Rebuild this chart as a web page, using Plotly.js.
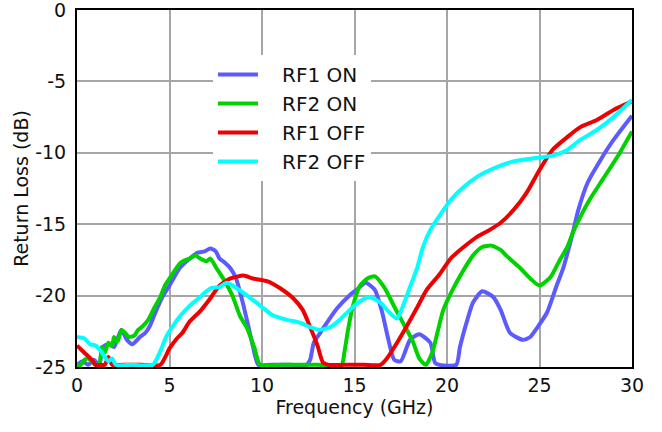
<!DOCTYPE html>
<html>
<head>
<meta charset="utf-8">
<script src="https://cdn.plot.ly/plotly-3.0.1.min.js"></script>
<style>html,body{margin:0;padding:0;background:#fff;}#chart{width:662px;height:432px;}</style>
</head>
<body>
<div id="chart"></div>
<script>
// Series names
const seriesNames = ['RF1 ON', 'RF2 ON', 'RF1 OFF', 'RF2 OFF'];

// RF1 ON
const rf1OnFreq = [0, 0.3, 0.6, 0.9, 1.2, 1.4, 1.7, 2.0, 2.2, 2.4, 2.7, 3.0, 3.4, 3.7, 3.95, 4.2, 4.5, 4.75, 5.0, 5.3, 5.6, 6.1, 6.5, 6.9, 7.2, 7.5, 7.7, 8.0, 8.3, 8.6, 8.8, 9.0, 9.2, 9.5, 9.8, 10.5, 11.5, 12.4, 12.6, 12.8, 13.1, 13.4, 14.05, 14.8, 15.2, 15.6, 16.1, 16.5, 16.8, 17.15, 17.5, 18.0, 18.5, 19.1, 19.35, 19.6, 20.5, 20.7, 21.1, 21.4, 21.9, 22.5, 22.9, 23.4, 24.1, 24.5, 24.9, 25.4, 25.9, 26.3, 26.8, 27.1, 27.6, 28.3, 29.0, 30];
const rf1OnLoss = [-24.85, -24.6, -24.85, -24.5, -24.85, -23.6, -23.4, -23.6, -23.0, -22.4, -23.1, -23.4, -22.9, -22.6, -22.1, -21.3, -20.4, -19.8, -19.3, -18.6, -18.0, -17.4, -17.0, -16.9, -16.7, -16.9, -17.4, -17.7, -18.1, -18.8, -19.7, -20.7, -21.8, -23.5, -24.85, -24.85, -24.85, -24.85, -24.5, -23.3, -22.7, -22.1, -20.9, -19.9, -19.5, -19.1, -19.6, -21.2, -22.9, -24.5, -24.6, -23.1, -22.7, -23.3, -24.7, -24.85, -24.85, -23.6, -21.7, -20.5, -19.7, -20.1, -21.0, -22.6, -23.1, -22.9, -22.2, -21.2, -19.4, -18.0, -15.6, -14.0, -12.1, -10.5, -9.1, -7.4];

// RF2 ON
const rf2OnFreq = [0, 0.2, 0.4, 0.6, 0.8, 1.0, 1.2, 1.35, 1.5, 1.7, 1.9, 2.0, 2.2, 2.4, 2.6, 2.8, 3.1, 3.3, 3.5, 3.85, 4.2, 4.5, 4.75, 5.0, 5.6, 6.1, 6.4, 6.65, 7.0, 7.2, 7.55, 7.9, 8.4, 8.8, 9.2, 9.6, 9.9, 11, 12, 13, 14.3, 14.45, 14.65, 14.9, 15.3, 15.7, 16.1, 16.6, 17.2, 17.7, 18.15, 18.5, 18.85, 19.2, 19.5, 19.8, 20.3, 20.9, 21.4, 21.9, 22.4, 22.9, 23.2, 23.9, 24.5, 25.0, 25.6, 26.1, 26.5, 26.8, 27.2, 27.7, 28.4, 29.2, 30];
const rf2OnLoss = [-24.85, -24.85, -24.5, -24.4, -24.6, -24.85, -24.85, -23.6, -24.0, -23.3, -23.5, -22.9, -23.2, -22.4, -22.6, -22.9, -22.8, -22.4, -22.2, -21.7, -20.8, -20.1, -19.3, -18.8, -17.7, -17.4, -17.2, -17.4, -17.6, -17.4, -18.1, -18.8, -20.0, -21.4, -22.3, -23.7, -24.85, -24.85, -24.85, -24.85, -24.85, -24.0, -22.4, -20.8, -19.3, -18.8, -18.65, -19.4, -20.9, -22.1, -23.2, -24.4, -24.85, -24.0, -22.5, -21.0, -19.6, -18.2, -17.2, -16.6, -16.5, -16.8, -17.2, -18.0, -18.8, -19.3, -18.7, -17.5, -16.6, -15.6, -14.5, -13.3, -11.9, -10.3, -8.5];

// RF1 OFF
const rf1OffFreq = [0, 0.4, 0.8, 1.0, 1.3, 1.5, 1.7, 1.9, 2.5, 3.5, 4.5, 5.0, 5.4, 5.7, 6.1, 6.65, 7.2, 7.7, 8.3, 9.0, 9.5, 10.3, 11.0, 11.7, 12.2, 12.6, 13.0, 13.3, 13.6, 14.5, 15.5, 16.4, 16.75, 17.3, 17.8, 18.4, 18.9, 19.6, 20.2, 20.9, 21.6, 22.3, 22.9, 23.6, 24.3, 25.0, 25.7, 26.5, 27.2, 28.1, 29.0, 30];
const rf1OffLoss = [-23.5, -24.0, -24.5, -24.85, -24.85, -24.85, -24.3, -24.85, -24.85, -24.85, -24.85, -23.7, -23.0, -22.6, -21.8, -21.1, -20.2, -19.3, -18.8, -18.6, -18.8, -19.0, -19.5, -20.2, -21.0, -22.2, -23.5, -24.7, -24.85, -24.85, -24.85, -24.85, -24.4, -23.3, -22.2, -20.8, -19.6, -18.5, -17.4, -16.6, -15.9, -15.4, -14.9, -14.0, -12.8, -11.2, -9.8, -8.9, -8.2, -7.7, -7.0, -6.4];

// RF2 OFF
const rf2OffFreq = [0, 0.4, 0.7, 1.0, 1.35, 1.7, 1.9, 2.1, 3.0, 4.1, 4.5, 4.85, 5.2, 5.6, 6.1, 6.65, 7.2, 7.7, 8.1, 8.65, 9.2, 9.9, 10.6, 11.35, 12.05, 12.6, 13.1, 13.7, 14.2, 14.75, 15.3, 15.8, 16.4, 16.9, 17.3, 17.6, 18.0, 18.4, 18.7, 19.1, 19.6, 20.2, 20.9, 21.6, 22.5, 23.6, 24.6, 25.7, 26.5, 27.2, 28.1, 29.0, 30];
const rf2OffLoss = [-22.9, -23.0, -23.4, -23.5, -24.0, -24.6, -24.4, -24.85, -24.85, -24.85, -23.9, -22.8, -22.1, -21.4, -20.7, -20.1, -19.5, -19.4, -19.1, -19.5, -20.0, -20.7, -21.4, -21.7, -21.9, -22.2, -22.4, -22.2, -21.7, -21.0, -20.4, -20.1, -20.5, -21.2, -21.6, -20.8, -19.4, -18.0, -16.6, -15.4, -14.4, -13.3, -12.4, -11.7, -11.1, -10.6, -10.4, -10.2, -9.8, -9.1, -8.4, -7.5, -6.3];

// Axis ticks
const xTicks = [0, 5, 10, 15, 20, 25, 30];
const yTicks = [0, -5, -10, -15, -20, -25];

const colors = ['#5b5bff', '#00d200', '#ee0000', '#00ffff'];
const xs = [rf1OnFreq, rf2OnFreq, rf1OffFreq, rf2OffFreq];
const ys = [rf1OnLoss, rf2OnLoss, rf1OffLoss, rf2OffLoss];

const pad = '\u00a0\u00a0\u00a0';
const traces = seriesNames.map((name, i) => ({
  type: 'scatter',
  mode: 'lines',
  name: pad + name,
  x: xs[i],
  y: ys[i],
  line: {color: colors[i], width: 4, shape: 'spline', smoothing: 0.6}
}));

const fontFam = '"DejaVu Sans", Verdana, sans-serif';
const layout = {
  width: 662,
  height: 432,
  margin: {l: 77, r: 30, t: 10, b: 65},
  paper_bgcolor: '#fff',
  plot_bgcolor: '#fff',
  font: {family: fontFam, color: '#111', size: 19},
  showlegend: true,
  legend: {
    x: 0.245, y: 0.874, xanchor: 'left', yanchor: 'top',
    bgcolor: '#ffffff', borderwidth: 0,
    font: {family: fontFam, size: 20, color: '#111'},
    itemwidth: 40
  },
  xaxis: {
    range: [0, 30],
    tickvals: xTicks,
    ticktext: xTicks.map(String),
    showgrid: true, gridcolor: '#a6a6a6', gridwidth: 2,
    showline: true, linecolor: '#000', linewidth: 2, mirror: true,
    zeroline: false, ticks: '',
    ticklabeloverflow: 'allow',
    tickfont: {family: fontFam, size: 19},
    title: {text: 'Frequency (GHz)', font: {family: fontFam, size: 19}, standoff: 5}
  },
  yaxis: {
    range: [-25, 0],
    tickvals: yTicks,
    ticktext: yTicks.map(String),
    showgrid: true, gridcolor: '#a6a6a6', gridwidth: 2,
    showline: true, linecolor: '#000', linewidth: 2, mirror: true,
    zeroline: false, ticks: '',
    ticklabelstandoff: 5,
    ticklabeloverflow: 'allow',
    tickfont: {family: fontFam, size: 19},
    title: {text: 'Return Loss (dB)', font: {family: fontFam, size: 19}, standoff: 2}
  }
};

Plotly.newPlot('chart', traces, layout, {displayModeBar: false, staticPlot: true});
</script>
</body>
</html>
